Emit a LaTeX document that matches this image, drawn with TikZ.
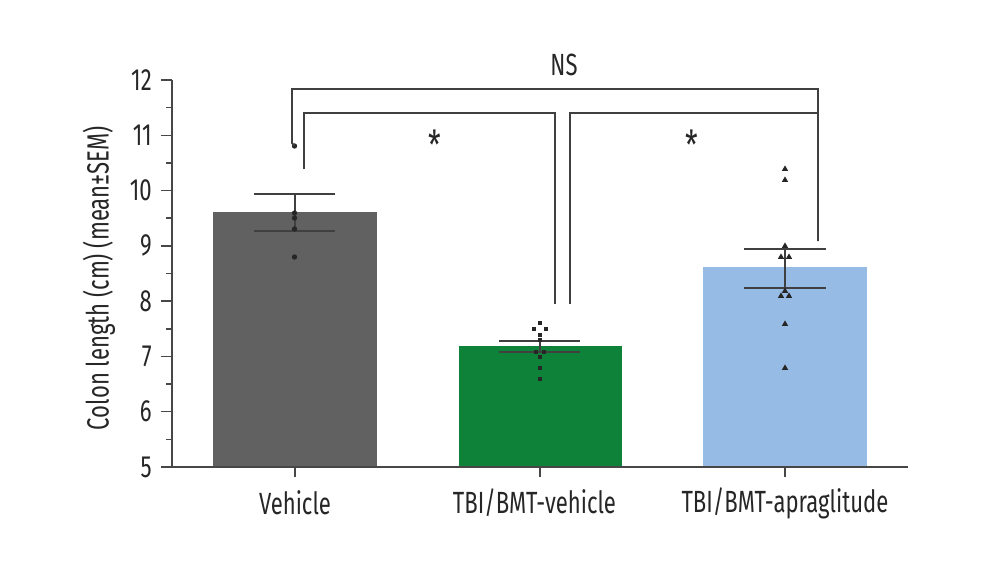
\documentclass[tikz,border=0pt]{standalone}
\usepackage{fontspec}
\setmainfont[FakeStretch=0.72]{Fira Sans}
\usetikzlibrary{shapes.geometric}
\tikzset{
  px/.style={x=0.75pt,y=-0.75pt},
  axisline/.style={draw=black!72,line width=1.1pt},
  errline/.style={draw=black!75,line width=1.5pt},
  brk/.style={draw=black!75,line width=1.4pt,line join=miter},
  lab/.style={font=\fontsize{23}{24}\selectfont,text=black!85,inner sep=0pt},
  dotmark/.style={circle,fill=black!85,inner sep=0pt,minimum size=4pt},
  squaremark/.style={rectangle,fill=black!85,inner sep=0pt,minimum size=3.6pt},
  trimark/.style={regular polygon,regular polygon sides=3,fill=black!85,inner sep=0pt,minimum size=5.4pt},
}
\begin{document}
\begin{tikzpicture}[px]
\useasboundingbox (0,0) rectangle (1000,571);
% bars
\fill[fill=black!62] (213,212) rectangle (377,467);
\fill[fill={rgb,255:red,14;green,130;blue,56}] (459,346) rectangle (622,467);
\fill[fill={rgb,255:red,150;green,187;blue,229}] (703,267) rectangle (867,467);
% axes
\draw[axisline] (172,80) -- (172,467) -- (908,467);
\foreach \v/\y in {12/80,11/135.3,10/190.6,9/245.9,8/301.1,7/356.4,6/411.7,5/467}{
  \draw[axisline] (161,\y) -- (172,\y);
  \node[lab,anchor=east] (t\v) at (152,\y) {\v};
}
\foreach \y in {107.6,163,218.2,273.5,328.8,384,439.4}{
  \draw[axisline] (166,\y) -- (172,\y);
}
\foreach \x in {295,540,785}{
  \draw[axisline] (\x,467) -- (\x,477);
}
\node[lab] (xa) at (295,503) {Vehicle};
\node[lab] (xb) at (534.5,503) {TBI/BMT-vehicle};
\node[lab] (xc) at (785,503) {TBI/BMT-apraglitude};
\node[lab,rotate=90] (ylab) at (99,278) {Colon length (cm) (mean±SEM)};
% error bars
\draw[errline] (254,194) -- (335,194) (254,231) -- (335,231) (294.5,194) -- (294.5,231);
\draw[errline] (499,340.5) -- (580,340.5) (499,352) -- (580,352) (540,340.5) -- (540,352);
\draw[errline] (744,249) -- (826,249) (744,287.5) -- (826,287.5) (785,249) -- (785,287.5);
% points
\foreach \x/\y in {294.5/146,294.5/213,294.5/218,294.5/229,294.5/257}{
  \node[dotmark] at (\x,\y) {};
}
\foreach \x/\y in {540/323,534/329,546/329,540/335,540/340,536/352,544/352,540/357,540/368,540/379}{
  \node[squaremark] at (\x,\y) {};
}
\foreach \x/\y in {785/169,785/180,785/246,781/257,789/257,785/291,781/296,789/296,785/324,785/368}{
  \node[trimark] at (\x,\y) {};
}
% brackets
\coordinate (oa) at (292,143);
\coordinate (ob) at (818,241);
\coordinate (ia) at (304,169);
\coordinate (ib) at (555,304);
\coordinate (ic) at (570,304);
\draw[brk] (294.5,146) -- (oa) -- (292,89) -- (818,89) -- (ob);
\draw[brk] (ia) -- (304,113) -- (555,113) -- (ib);
\draw[brk] (ic) -- (570,113) -- (818,113);
% annotations
\node[lab] (ns) at (564,65) {NS};
\node[lab,font=\fontsize{30}{30}\selectfont] (s1) at (435,145) {*};
\node[lab,font=\fontsize{30}{30}\selectfont] (s2) at (692,145) {*};
\end{tikzpicture}
\end{document}
